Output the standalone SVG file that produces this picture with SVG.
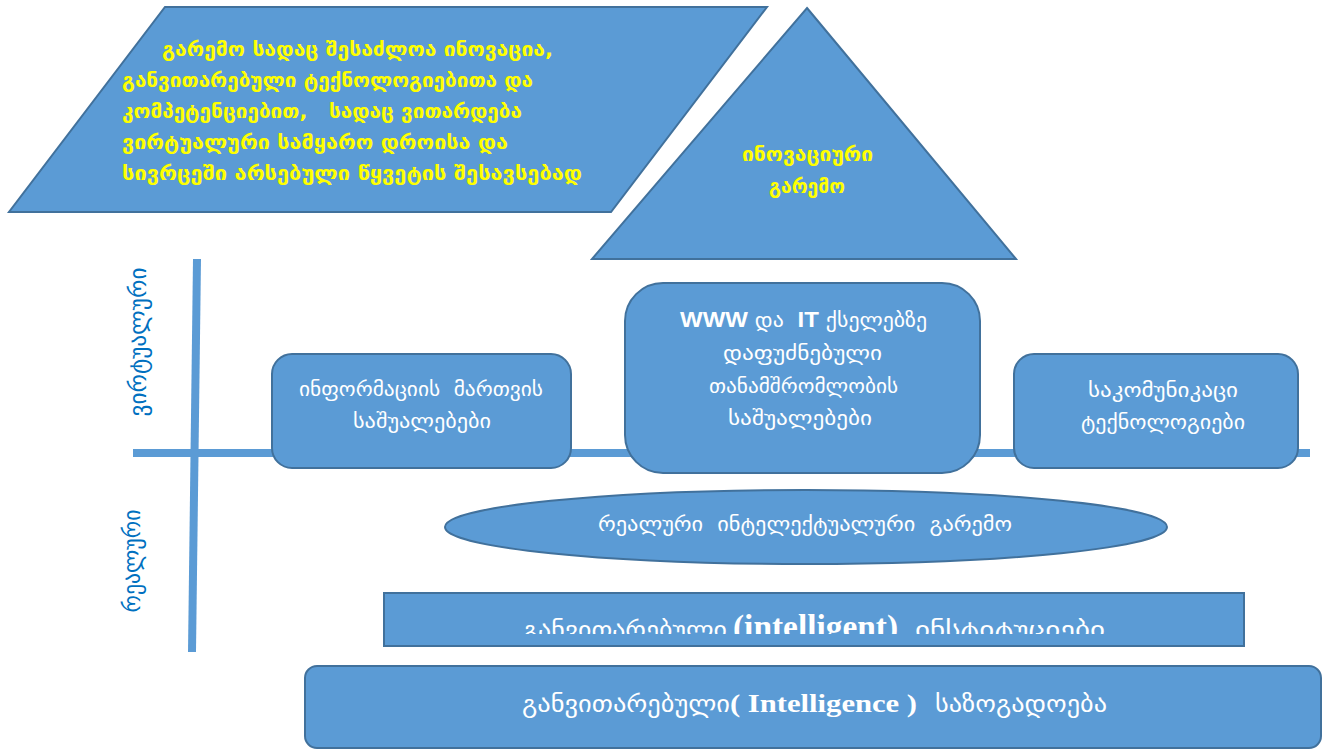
<svg xmlns="http://www.w3.org/2000/svg" width="1330" height="749" viewBox="0 0 1330 749">
<style>
.shape{fill:#5B9BD5;stroke:#41719C;stroke-width:2}
.axis{stroke:#5B9BD5;stroke-width:8;fill:none}
.ka{font-family:"DejaVu Sans","Noto Sans",sans-serif}
.w{fill:#FFFFFF}
.y{fill:#FFFF00;font-weight:bold;font-size:19px}
.wt{font-size:20px}
.lbl{fill:#0070C0;font-size:23px}
.ser{font-family:"Liberation Serif","Times New Roman",serif;font-weight:bold}
.sans{font-family:"Liberation Sans",Arial,sans-serif;font-weight:bold}
</style>
<defs>
<clipPath id="instClip"><rect x="385" y="593" width="856" height="41"/></clipPath>
</defs>
<rect width="1330" height="749" fill="#FFFFFF"/>
<g id="connectors">
<line class="axis" x1="197" y1="259" x2="192" y2="652"/>
<line class="axis" x1="133" y1="453" x2="1310" y2="453"/>
</g>
<g id="virtual-label">
<text class="ka lbl" transform="translate(138,342) rotate(-90)" text-anchor="middle" dominant-baseline="central" textLength="149" lengthAdjust="spacingAndGlyphs">ვირტუალური</text>
</g>
<g id="real-label">
<text class="ka lbl" transform="translate(132,561) rotate(-90)" text-anchor="middle" dominant-baseline="central" textLength="103" lengthAdjust="spacingAndGlyphs">რეალური</text>
</g>
<g id="environment">
<polygon class="shape" points="165,7 767,7 611,212 9,212"/>
<text class="ka y" x="162" y="56" textLength="391" lengthAdjust="spacingAndGlyphs">გარემო სადაც შესაძლოა ინოვაცია,</text>
<text class="ka y" x="122" y="87" textLength="411" lengthAdjust="spacingAndGlyphs">განვითარებული ტექნოლოგიებითა და</text>
<text class="ka y" x="122" y="118" textLength="400" lengthAdjust="spacingAndGlyphs" style="white-space:pre">კომპეტენციებით,   სადაც ვითარდება</text>
<text class="ka y" x="122" y="149" textLength="386" lengthAdjust="spacingAndGlyphs">ვირტუალური სამყარო დროისა და</text>
<text class="ka y" x="122" y="180" textLength="460" lengthAdjust="spacingAndGlyphs">სივრცეში არსებული წყვეტის შესავსებად</text>
</g>
<g id="innovative">
<polygon class="shape" points="807,8 1016,259 592,259"/>
<text class="ka y" x="742" y="161" textLength="131" lengthAdjust="spacingAndGlyphs">ინოვაციური</text>
<text class="ka y" x="769" y="193" textLength="76" lengthAdjust="spacingAndGlyphs">გარემო</text>
</g>
<g id="info-mgmt">
<rect class="shape" x="272" y="354" width="299" height="114" rx="20"/>
<text class="ka w wt" x="299" y="396" textLength="244" lengthAdjust="spacingAndGlyphs" style="white-space:pre">ინფორმაციის  მართვის</text>
<text class="ka w wt" x="353" y="428" textLength="138" lengthAdjust="spacingAndGlyphs">საშუალებები</text>
</g>
<g id="www">
<rect class="shape" x="625" y="283" width="355" height="190" rx="38"/>
<text class="w" x="680" y="327" textLength="247" lengthAdjust="spacingAndGlyphs" style="white-space:pre"><tspan class="sans" font-size="22">WWW</tspan><tspan class="ka wt"> და  </tspan><tspan class="sans" font-size="22">IT</tspan><tspan class="ka wt"> ქსელებზე</tspan></text>
<text class="ka w wt" x="723" y="360" textLength="159" lengthAdjust="spacingAndGlyphs">დაფუძნებული</text>
<text class="ka w wt" x="709" y="393" textLength="189" lengthAdjust="spacingAndGlyphs">თანამშრომლობის</text>
<text class="ka w wt" x="728" y="425" textLength="144" lengthAdjust="spacingAndGlyphs">საშუალებები</text>
</g>
<g id="communication">
<rect class="shape" x="1014" y="354" width="284" height="114" rx="20"/>
<text class="ka w wt" x="1088" y="397" textLength="150" lengthAdjust="spacingAndGlyphs">საკომუნიკაცი</text>
<text class="ka w wt" x="1081" y="429" textLength="164" lengthAdjust="spacingAndGlyphs">ტექნოლოგიები</text>
</g>
<g id="real-env">
<ellipse class="shape" cx="806" cy="527" rx="361" ry="37"/>
<text class="ka w wt" x="598" y="531" textLength="414" lengthAdjust="spacingAndGlyphs" style="white-space:pre">რეალური  ინტელექტუალური  გარემო</text>
</g>
<g id="institutions">
<rect class="shape" x="384" y="593" width="860" height="53"/>
<g clip-path="url(#instClip)">
<text class="ka w" font-size="23" x="523" y="638" textLength="204" lengthAdjust="spacingAndGlyphs">განვითარებული</text>
<text class="ser w" font-size="33" x="733" y="638" textLength="165" lengthAdjust="spacingAndGlyphs">(intelligent)</text>
<text class="ka w" font-size="23" x="915" y="638" textLength="190" lengthAdjust="spacingAndGlyphs">ინსტიტუციები</text>
</g>
</g>
<g id="society">
<rect class="shape" x="305" y="666" width="1016" height="82" rx="12"/>
<text class="ka w" font-size="23" x="522" y="712" textLength="208" lengthAdjust="spacingAndGlyphs">განვითარებული</text>
<text class="ser w" font-size="26" x="730" y="712" textLength="187" lengthAdjust="spacingAndGlyphs" style="white-space:pre">( Intelligence )</text>
<text class="ka w" font-size="23" x="935" y="712" textLength="172" lengthAdjust="spacingAndGlyphs">საზოგადოება</text>
</g>
</svg>
